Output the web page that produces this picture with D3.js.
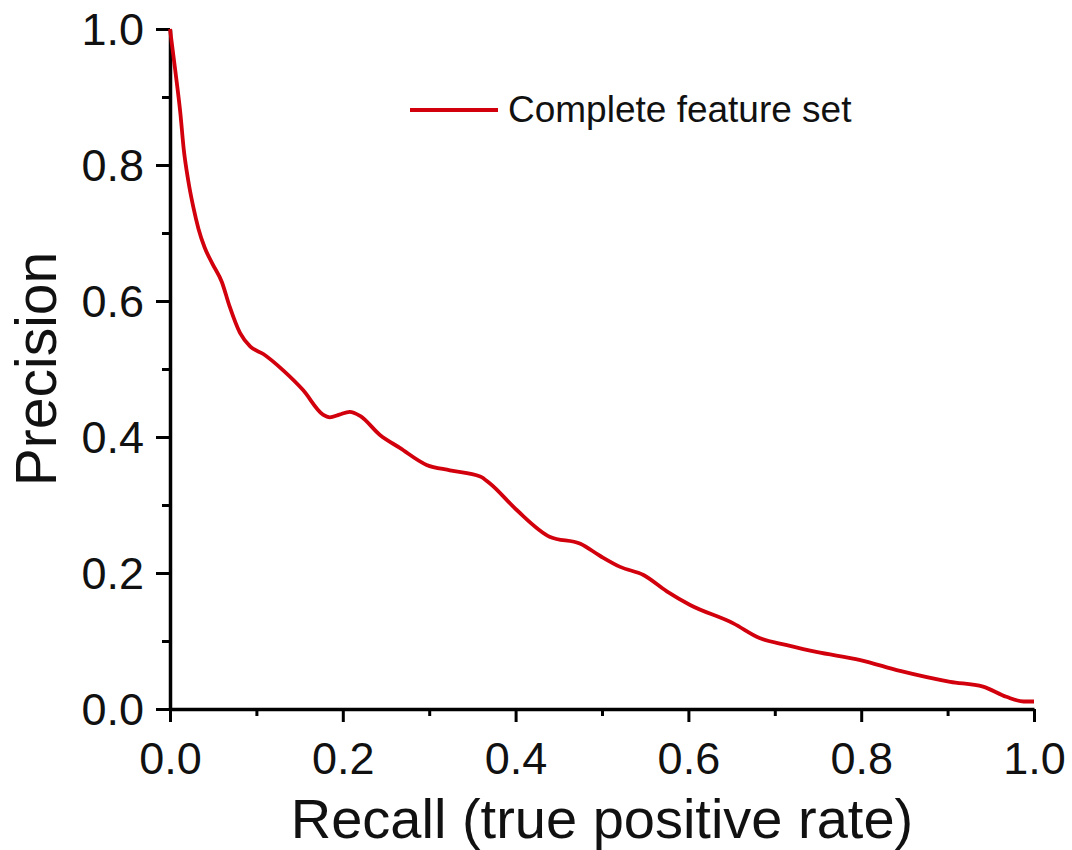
<!DOCTYPE html>
<html>
<head>
<meta charset="utf-8">
<script src="https://cdn.jsdelivr.net/npm/d3@7"></script>
<style>
  html, body { margin: 0; padding: 0; background: #fff; }
  svg { display: block; }
  text { font-family: Arial, "Liberation Sans", Helvetica, sans-serif; fill: #111; }
</style>
</head>
<body>
<svg id="chart" width="1072" height="850"></svg>
<script>
// Precision-recall curve, complete feature set
const recall = [0, 0.006, 0.012, 0.016, 0.021, 0.027, 0.033, 0.040, 0.049, 0.060, 0.069, 0.081, 0.093, 0.108,
  0.131, 0.154, 0.177, 0.185, 0.196, 0.208, 0.220, 0.243, 0.266, 0.297, 0.324, 0.359, 0.370,
  0.401, 0.440, 0.475, 0.498, 0.521, 0.548, 0.575, 0.602, 0.652, 0.683, 0.714, 0.748, 0.799,
  0.845, 0.903, 0.941, 0.968, 0.988, 1.0];
const precision = [1.0, 0.94, 0.876, 0.822, 0.778, 0.738, 0.706, 0.679, 0.655, 0.628, 0.592, 0.553, 0.533, 0.522,
  0.498, 0.469, 0.433, 0.429, 0.433, 0.437, 0.431, 0.403, 0.384, 0.359, 0.351, 0.342, 0.332,
  0.293, 0.253, 0.243, 0.225, 0.209, 0.197, 0.173, 0.153, 0.126, 0.104, 0.094, 0.084, 0.072,
  0.056, 0.040, 0.033, 0.018, 0.011, 0.011];

const majorTicks = [0, 0.2, 0.4, 0.6, 0.8, 1.0];
const minorTicks = [0.1, 0.3, 0.5, 0.7, 0.9];
const seriesName = "Complete feature set";
const xTitle = "Recall (true positive rate)";
const yTitle = "Precision";

const lineColor = "#d2000c";
const svg = d3.select("#chart");

const x = d3.scaleLinear().domain([0, 1]).range([170, 1034]);
const y = d3.scaleLinear().domain([0, 1]).range([709, 29]);

const fmt = d3.format(".1f");

// X axis: major ticks with labels, minor ticks without
svg.append("g").attr("transform", `translate(0,${y(0)})`)
  .call(d3.axisBottom(x).tickValues(majorTicks).tickFormat(fmt).tickSize(13).tickPadding(20).tickSizeOuter(0));
svg.append("g").attr("transform", `translate(0,${y(0)})`)
  .call(d3.axisBottom(x).tickValues(minorTicks).tickFormat("").tickSize(7).tickSizeOuter(0))
  .call(g => g.select(".domain").remove());

// Y axis
const yAxis = svg.append("g").attr("transform", `translate(${x(0)},0)`)
  .call(d3.axisLeft(y).tickValues(majorTicks).tickFormat(fmt).tickSize(14).tickPadding(12).tickSizeOuter(0));
svg.append("g").attr("transform", `translate(${x(0)},0)`)
  .call(d3.axisLeft(y).tickValues(minorTicks).tickFormat("").tickSize(8).tickSizeOuter(0))
  .call(g => g.select(".domain").remove());

svg.selectAll(".domain").attr("stroke", "#000").attr("stroke-width", 3.5);
svg.selectAll(".tick line").attr("stroke", "#000").attr("stroke-width", 3);
svg.selectAll(".tick text").attr("font-size", 45).attr("font-family", "Arial, 'Liberation Sans', sans-serif").attr("fill", "#1a1a1a");
yAxis.selectAll(".tick text").attr("dy", "0.34em");

// Axis titles
svg.append("text").attr("x", x(0.5)).attr("y", 838).attr("text-anchor", "middle")
  .attr("font-size", 56).text(xTitle);
svg.append("text").attr("transform", `translate(56,${y(0.5)}) rotate(-90)`).attr("text-anchor", "middle")
  .attr("font-size", 57).text(yTitle);

// Curve
const pts = recall.map((r, i) => [r, precision[i]]);
const line = d3.line().x(d => x(d[0])).y(d => y(d[1])).curve(d3.curveMonotoneX);
svg.append("path").datum(pts).attr("d", line).attr("fill", "none")
  .attr("stroke", lineColor).attr("stroke-width", 3.8).attr("stroke-linejoin", "round");

// Legend
const lg = svg.append("g").attr("transform", "translate(410,110)");
lg.append("line").attr("x1", 0).attr("x2", 88).attr("y1", 0).attr("y2", 0)
  .attr("stroke", lineColor).attr("stroke-width", 4);
lg.append("text").attr("x", 98).attr("y", 12).attr("font-size", 37).text(seriesName);
</script>
</body>
</html>
